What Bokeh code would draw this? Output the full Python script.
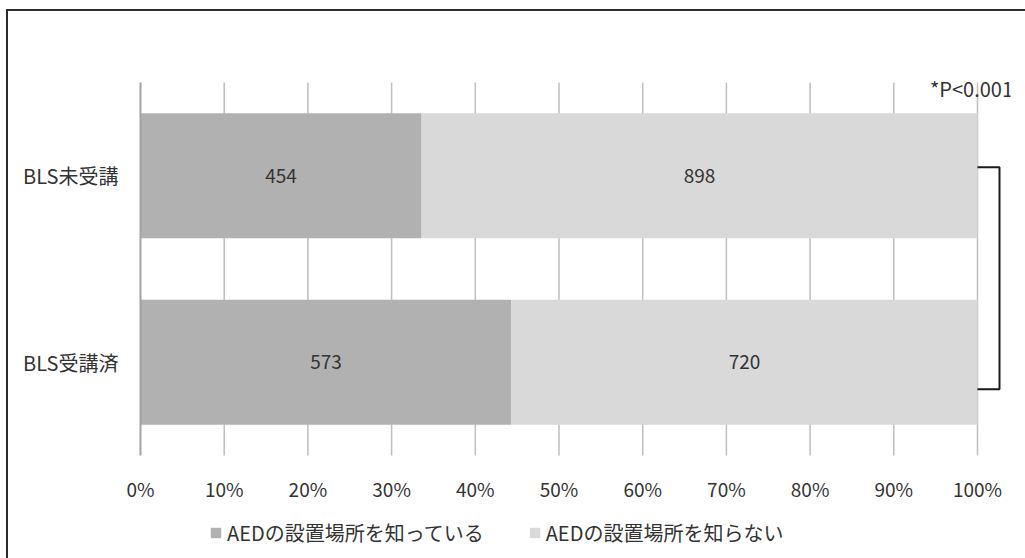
from bokeh.plotting import figure
from bokeh.models import (Range1d, FixedTicker, Legend, LegendItem, Label,
                          InlineStyleSheet)
from bokeh.core.properties import value
from bokeh.embed import file_html
from bokeh.resources import INLINE

# ---- data ----
categories = ["BLS受講済", "BLS未受講"]          # bottom -> top
know_counts = [573, 454]                          # AEDの設置場所を知っている
dont_know_counts = [720, 898]                     # AEDの設置場所を知らない
series_labels = ["AEDの設置場所を知っている", "AEDの設置場所を知らない"]
x_ticks = [0.0, 0.1, 0.2, 0.3, 0.4, 0.5, 0.6, 0.7, 0.8, 0.9, 1.0]
x_tick_labels = ["0%", "10%", "20%", "30%", "40%", "50%", "60%", "70%",
                 "80%", "90%", "100%"]
p_text = "*P<0.001"

# ---- derived ----
totals = [a + b for a, b in zip(know_counts, dont_know_counts)]
know_frac = [a / t for a, t in zip(know_counts, totals)]
ys = [i + 0.5 for i in range(len(categories))]
n_cat = len(categories)

FONT = "Noto Sans CJK JP"
TXT = "#333333"
C_KNOW = "#b1b1b1"
C_DONT = "#d9d9d9"

# layout constants (pixels -> data)
PX_X = 837.0      # px per 100%
PX_Y = 186.5      # px per category
FRAME_LEFT = 120
ZERO_X = 140
x_start = -(ZERO_X - FRAME_LEFT) / PX_X
x_end = (1010 - ZERO_X) / PX_X
y_bottom = -(558 - 455) / PX_Y
y_top = n_cat + 82 / PX_Y

border_css = InlineStyleSheet(css="""
:host::after {
  content: ''; position: absolute; left: 6px; top: 9px; right: 0; bottom: 0;
  border-left: 2px solid #2b2b2b; border-top: 2px solid #2b2b2b;
  pointer-events: none;
}
""")

p = figure(width=1025, height=558, output_backend="svg", toolbar_location=None,
           x_range=Range1d(x_start, x_end), y_range=Range1d(y_bottom, y_top),
           min_border_left=FRAME_LEFT, min_border_right=15, min_border_top=0,
           min_border_bottom=0, stylesheets=[border_css])
p.outline_line_color = None
p.background_fill_color = "white"
p.border_fill_color = "white"
p.xaxis.visible = False
p.xgrid.grid_line_color = None
p.ygrid.grid_line_color = None

# gridlines (vertical) spanning the category band
p.segment(x0=x_ticks[1:], y0=0, x1=x_ticks[1:], y1=n_cat,
          line_color="#bfbfbf", line_width=1.5)

bar_h = 0.67
r1 = p.hbar(y=ys, left=0, right=know_frac, height=bar_h, fill_color=C_KNOW,
            line_color=None)
r2 = p.hbar(y=ys, left=know_frac, right=1.0, height=bar_h, fill_color=C_DONT,
            line_color=None)
# 0% axis line on top of the bars
p.segment(x0=x_ticks[:1], y0=0, x1=x_ticks[:1], y1=n_cat,
          line_color="#a3a3a3", line_width=2)

# value labels
p.text(x=[f / 2 for f in know_frac], y=ys, text=[str(v) for v in know_counts],
       text_align="center", text_baseline="middle", text_font=value(FONT),
       text_font_size="19px", text_color=TXT)
p.text(x=[(f + 1.0) / 2 for f in know_frac], y=ys,
       text=[str(v) for v in dont_know_counts],
       text_align="center", text_baseline="middle", text_font=value(FONT),
       text_font_size="19px", text_color=TXT)

# x tick labels
p.text(x=x_ticks, y=-(488 - 455) / PX_Y, text=x_tick_labels,
       text_align="center", text_baseline="middle", text_font=value(FONT),
       text_font_size="19px", text_color=TXT)

# significance bracket
bx = 1.0 + 22 / PX_X
top_y = ys[1] + 8.5 / PX_Y
bot_y = ys[0] - 27 / PX_Y
p.line(x=[1.0, bx, bx, 1.0], y=[top_y, top_y, bot_y, bot_y],
       line_color="#1a1a1a", line_width=2)
p.add_layout(Label(x=1.0 - 6 / PX_X, y=n_cat - 6 / PX_Y, text=p_text,
                   text_align="center", text_baseline="middle", text_font=FONT,
                   text_font_size="20px", text_color=TXT))

# y axis (category labels)
p.yaxis.ticker = FixedTicker(ticks=ys)
p.yaxis.major_label_overrides = {y: c for y, c in zip(ys, categories)}
p.yaxis.axis_line_color = None
p.yaxis.major_tick_line_color = None
p.yaxis.minor_tick_line_color = None
p.yaxis.major_tick_out = 0
p.yaxis.major_label_standoff = 2
p.yaxis.major_label_text_font = FONT
p.yaxis.major_label_text_font_size = "20px"
p.yaxis.major_label_text_color = TXT

legend = Legend(items=[LegendItem(label=series_labels[0], renderers=[r1]),
                       LegendItem(label=series_labels[1], renderers=[r2])],
                orientation="horizontal", location=(89, 11),
                border_line_color=None, background_fill_alpha=0,
                padding=0, margin=0, spacing=44,
                glyph_width=13, glyph_height=13, label_standoff=5,
                label_height=20, label_text_font=FONT,
                label_text_font_size="20px", label_text_color=TXT)
p.add_layout(legend, "center")

open("out.html", "w").write(file_html(p, INLINE))
